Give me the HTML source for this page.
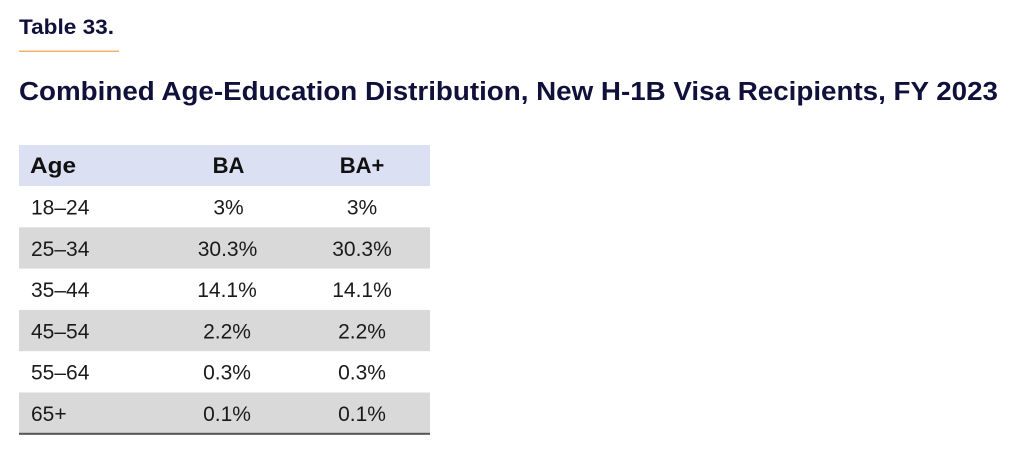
<!DOCTYPE html>
<html>
<head>
<meta charset="utf-8">
<style>
  html,body{margin:0;padding:0;background:#fff;}
  body{width:1024px;height:451px;overflow:hidden;}
  svg{display:block;}
  text{font-family:"Liberation Sans", Arial, sans-serif;}
</style>
</head>
<body>
<svg width="1024" height="451" viewBox="0 0 1024 451" xmlns="http://www.w3.org/2000/svg">
  <rect x="0" y="0" width="1024" height="451" fill="#ffffff"/>

  <!-- Table label -->
  <text x="19" y="34" font-size="21" font-weight="bold" fill="#10113a" textLength="95" lengthAdjust="spacingAndGlyphs">Table 33.</text>
  <rect x="19" y="50.5" width="100" height="1.5" fill="#f2b46a"/>

  <!-- Title -->
  <text x="19" y="100" font-size="25.5" font-weight="bold" fill="#10113a" textLength="979" lengthAdjust="spacingAndGlyphs">Combined Age-Education Distribution, New H-1B Visa Recipients, FY 2023</text>

  <!-- Header -->
  <rect x="19" y="145" width="411" height="41" fill="#dbe1f2"/>
  <text x="30" y="173" font-size="22" font-weight="bold" fill="#111111" textLength="46" lengthAdjust="spacingAndGlyphs">Age</text>
  <text x="228.5" y="173" font-size="22" font-weight="bold" fill="#111111" text-anchor="middle">BA</text>
  <text x="362" y="173" font-size="22" font-weight="bold" fill="#111111" text-anchor="middle">BA+</text>

  <!-- Row backgrounds -->
  <rect x="19" y="227.3" width="411" height="41.3" fill="#d9d9d9"/>
  <rect x="19" y="309.9" width="411" height="41.3" fill="#d9d9d9"/>
  <rect x="19" y="392.5" width="411" height="41.3" fill="#d9d9d9"/>
  <rect x="19" y="432.8" width="411" height="2" fill="#555555"/>

  <!-- Rows -->
  <g font-size="21" fill="#1a1a1a">
    <text x="31" y="214.5">18–24</text>
    <text x="228.5" y="214.5" text-anchor="middle">3%</text>
    <text x="362" y="214.5" text-anchor="middle">3%</text>

    <text x="31" y="255.8">25–34</text>
    <text x="227.5" y="255.8" text-anchor="middle">30.3%</text>
    <text x="362" y="255.8" text-anchor="middle">30.3%</text>

    <text x="31" y="297.1">35–44</text>
    <text x="227" y="297.1" text-anchor="middle">14.1%</text>
    <text x="362" y="297.1" text-anchor="middle">14.1%</text>

    <text x="31" y="338.4">45–54</text>
    <text x="227" y="338.4" text-anchor="middle">2.2%</text>
    <text x="362" y="338.4" text-anchor="middle">2.2%</text>

    <text x="31" y="379.7">55–64</text>
    <text x="227" y="379.7" text-anchor="middle">0.3%</text>
    <text x="362" y="379.7" text-anchor="middle">0.3%</text>

    <text x="31" y="421">65+</text>
    <text x="227" y="421" text-anchor="middle">0.1%</text>
    <text x="362" y="421" text-anchor="middle">0.1%</text>
  </g>
</svg>
</body>
</html>
